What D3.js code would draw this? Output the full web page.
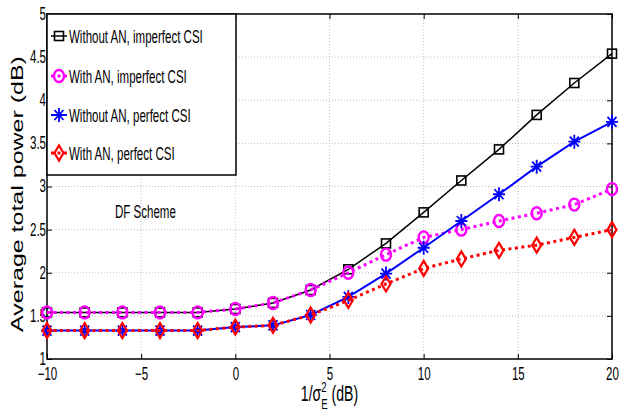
<!DOCTYPE html>
<html>
<head>
<meta charset="utf-8">
<script src="https://cdn.jsdelivr.net/npm/d3@7"></script>
<style>
  body { margin: 0; background: #fff; }
  text { font-family: "Liberation Sans", Arial, sans-serif; fill: #000; }
</style>
</head>
<body>
<div id="chart"></div>
<script>
// Data
const snr = [-10, -8, -6, -4, -2, 0, 2, 4, 6, 8, 10, 12, 14, 16, 18, 20];
const noAnImperfect = [1.54, 1.54, 1.54, 1.54, 1.54, 1.58, 1.65, 1.80, 2.04, 2.34, 2.70, 3.07, 3.43, 3.83, 4.20, 4.54];
const anImperfect   = [1.54, 1.54, 1.54, 1.54, 1.54, 1.58, 1.65, 1.80, 2.00, 2.21, 2.41, 2.50, 2.60, 2.69, 2.79, 2.97];
const noAnPerfect   = [1.33, 1.33, 1.33, 1.33, 1.33, 1.37, 1.39, 1.51, 1.72, 1.99, 2.29, 2.60, 2.91, 3.23, 3.52, 3.75];
const anPerfect     = [1.33, 1.33, 1.33, 1.33, 1.33, 1.37, 1.39, 1.51, 1.68, 1.87, 2.05, 2.16, 2.26, 2.32, 2.41, 2.50];
const xTicks = [-10, -5, 0, 5, 10, 15, 20];
const yTicks = [1, 1.5, 2, 2.5, 3, 3.5, 4, 4.5, 5];
const seriesNames = [
  "Without AN, imperfect CSI",
  "With AN, imperfect CSI",
  "Without AN, perfect CSI",
  "With AN, perfect CSI"
];

// the original figure is squeezed horizontally
const SX = 0.64;

const W = 619, H = 419;
const plot = { left: 47, right: 612, top: 14, bottom: 359 };

const x = d3.scaleLinear().domain([-10, 20]).range([plot.left, plot.right]);
const y = d3.scaleLinear().domain([1, 5]).range([plot.bottom, plot.top]);

const svg = d3.select("#chart").append("svg")
  .attr("width", W)
  .attr("height", H);

// Gridlines
svg.append("g").selectAll("line")
  .data(xTicks.slice(1, -1))
  .join("line")
  .attr("x1", d => x(d)).attr("x2", d => x(d))
  .attr("y1", plot.top).attr("y2", plot.bottom)
  .attr("stroke", "#b0b0b0").attr("stroke-width", 0.8)
  .attr("stroke-dasharray", "1,2");

svg.append("g").selectAll("line")
  .data(yTicks.slice(1, -1))
  .join("line")
  .attr("x1", plot.left).attr("x2", plot.right)
  .attr("y1", d => y(d)).attr("y2", d => y(d))
  .attr("stroke", "#b0b0b0").attr("stroke-width", 0.8)
  .attr("stroke-dasharray", "1,2");

// Axes (ticks pointing inward on all four sides)
function styleAxis(g) {
  g.select(".domain").remove();
  g.selectAll(".tick line").attr("stroke", "#000").attr("stroke-width", 1);
}

const fmt = d3.format("");

svg.append("g")
  .attr("transform", `translate(${plot.left},0)`)
  .call(d3.axisLeft(y).tickValues(yTicks).tickSize(-5).tickFormat(d => fmt(d)))
  .call(styleAxis)
  .call(g => g.selectAll(".tick text")
    .attr("x", -1 / SX)
    .attr("dy", "0.30em")
    .attr("transform", `scale(${SX},1)`)
    .style("font-size", "18px")
    .style("font-family", "Liberation Sans, Arial, sans-serif")
    .attr("fill", "#000"));

svg.append("g")
  .attr("transform", `translate(0,${plot.bottom})`)
  .call(d3.axisBottom(x).tickValues(xTicks).tickSize(-5))
  .call(styleAxis)
  .call(g => g.selectAll(".tick text")
    .attr("y", 8)
    .attr("dy", "0.71em")
    .attr("transform", `scale(${SX},1)`)
    .style("font-size", "18px")
    .style("font-family", "Liberation Sans, Arial, sans-serif")
    .attr("fill", "#000"));

svg.append("g")
  .attr("transform", `translate(${plot.right},0)`)
  .call(d3.axisRight(y).tickValues(yTicks).tickSize(-5).tickFormat(""))
  .call(styleAxis);

svg.append("g")
  .attr("transform", `translate(0,${plot.top})`)
  .call(d3.axisTop(x).tickValues(xTicks).tickSize(-5).tickFormat(""))
  .call(styleAxis);

// Box
svg.append("rect")
  .attr("x", plot.left).attr("y", plot.top)
  .attr("width", plot.right - plot.left)
  .attr("height", plot.bottom - plot.top)
  .attr("fill", "none")
  .attr("stroke", "#000")
  .attr("stroke-width", 1.5);

// Marker shapes
function drawMarker(g, type, color) {
  if (type === "square") {
    g.append("rect").attr("x", -4.5).attr("y", -4.5).attr("width", 9).attr("height", 9)
      .attr("fill", "none").attr("stroke", color).attr("stroke-width", 1.6);
  } else if (type === "circle") {
    g.append("ellipse").attr("rx", 5).attr("ry", 6)
      .attr("fill", "none").attr("stroke", color).attr("stroke-width", 2.4);
  } else if (type === "star") {
    g.append("path")
      .attr("d", "M-6,0H6M0,-7V7M-4.5,-5L4.5,5M-4.5,5L4.5,-5")
      .attr("stroke", color).attr("stroke-width", 1.8);
  } else if (type === "diamond") {
    g.append("path")
      .attr("d", "M0,-7.5L4.5,0L0,7.5L-4.5,0Z")
      .attr("fill", "none").attr("stroke", color).attr("stroke-width", 2.2);
  }
}

const series = [
  { name: seriesNames[0], values: noAnImperfect, color: "#000000", dash: null, width: 1.5, marker: "square" },
  { name: seriesNames[1], values: anImperfect, color: "#ff00ff", dash: "3,3.5", width: 3, marker: "circle" },
  { name: seriesNames[2], values: noAnPerfect, color: "#0000ff", dash: null, width: 2, marker: "star" },
  { name: seriesNames[3], values: anPerfect, color: "#ff0000", dash: "3,3.5", width: 3, marker: "diamond" }
];

const line = d3.line()
  .x((d, i) => x(snr[i]))
  .y(d => y(d));

series.forEach(s => {
  svg.append("path")
    .datum(s.values)
    .attr("fill", "none")
    .attr("stroke", s.color)
    .attr("stroke-width", s.width)
    .attr("stroke-dasharray", s.dash)
    .attr("d", line);

  s.values.forEach((v, i) => {
    const m = svg.append("g").attr("transform", `translate(${x(snr[i])},${y(v)})`);
    drawMarker(m, s.marker, s.color);
  });
});

// Squeezed text helper
function addText(parent, px, py, str, size, anchor) {
  return parent.append("text")
    .attr("transform", `translate(${px},${py}) scale(${SX},1)`)
    .attr("text-anchor", anchor || "start")
    .style("font-size", size + "px")
    .text(str);
}

// Legend
const legend = svg.append("g");
legend.append("rect")
  .attr("x", plot.left).attr("y", plot.top)
  .attr("width", 189).attr("height", 161)
  .attr("fill", "#fff")
  .attr("stroke", "#000")
  .attr("stroke-width", 1.5);

const legendY = [36, 76, 115, 153];
series.forEach((s, i) => {
  const ly = legendY[i];
  legend.append("line")
    .attr("x1", 51).attr("x2", 67)
    .attr("y1", ly).attr("y2", ly)
    .attr("stroke", s.color)
    .attr("stroke-width", s.width)
    .attr("stroke-dasharray", s.dash);
  drawMarker(legend.append("g").attr("transform", `translate(59,${ly})`), s.marker, s.color);
  addText(legend, 69, ly + 6.5, s.name, 18);
});

// Annotation
addText(svg, 115, 218, "DF Scheme", 18);

// Y axis title
svg.append("text")
  .attr("transform", `translate(23,194) scale(${SX},1) rotate(-90)`)
  .attr("text-anchor", "middle")
  .style("font-size", "25px")
  .text("Average total power (dB)");

// X axis title: 1/σ_E^2 (dB)
const xt = svg.append("g");
const inner = xt.append("g");
const t1 = inner.append("text").style("font-size", "22px").text("1/σ");
const w1 = t1.node().getComputedTextLength();
const sup = inner.append("text").attr("x", w1).attr("y", -9).style("font-size", "15px").text("2");
const sub = inner.append("text").attr("x", w1).attr("y", 8).style("font-size", "15px").text("E");
const w2 = Math.max(sup.node().getComputedTextLength(), sub.node().getComputedTextLength());
const t3 = inner.append("text").attr("x", w1 + w2).style("font-size", "22px").text("\u00a0(dB)");
const total = w1 + w2 + t3.node().getComputedTextLength();
inner.attr("transform", `translate(${-total / 2},0)`);
xt.attr("transform", `translate(${(plot.left + plot.right) / 2},401) scale(${SX},1)`);
</script>
</body>
</html>
